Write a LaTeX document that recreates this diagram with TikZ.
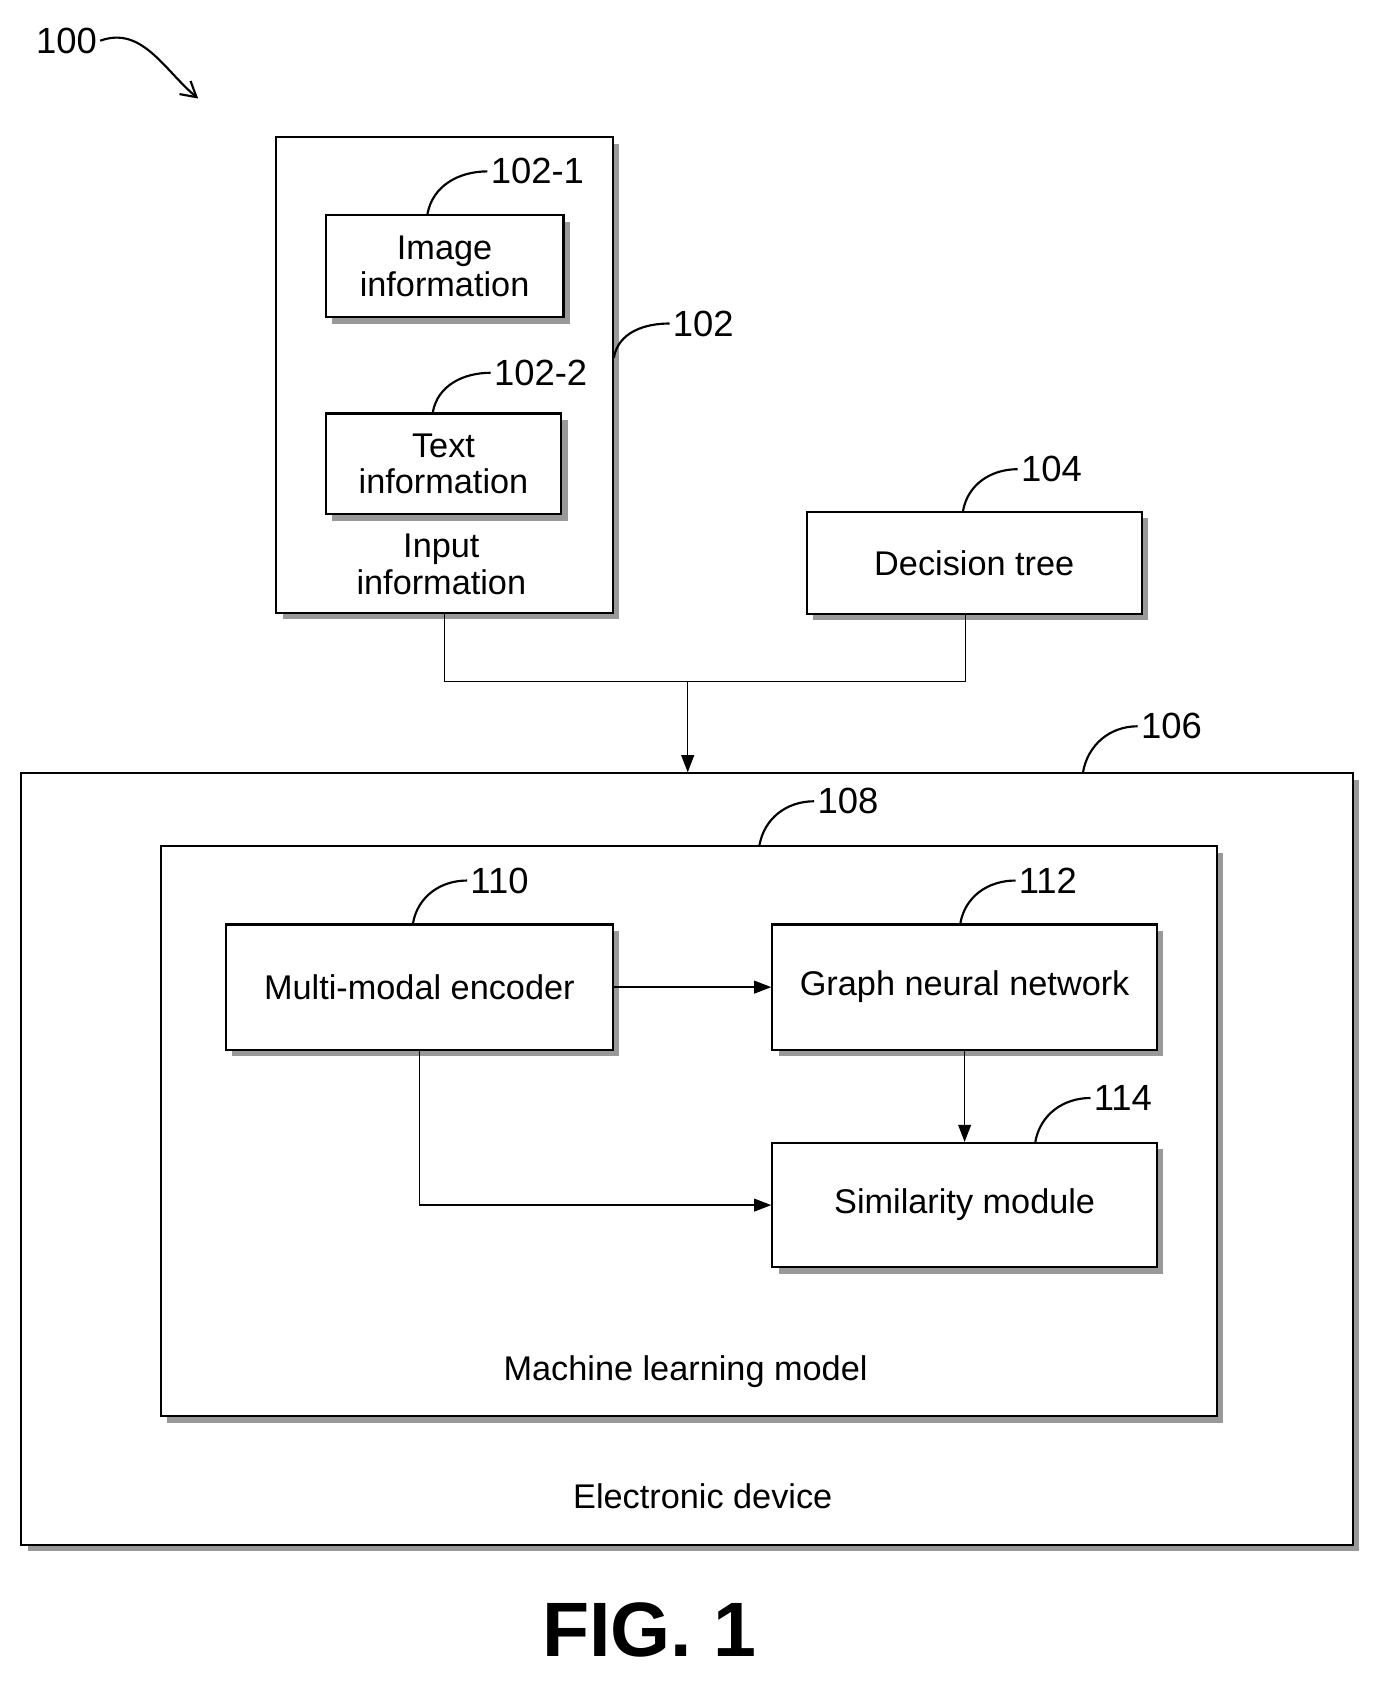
\documentclass[tikz,border=0pt]{standalone}
\usepackage{fontspec}
\setmainfont{Liberation Sans}
\usetikzlibrary{shadows,arrows.meta}

\begin{document}
\begin{tikzpicture}[x=1pt,y=-1pt,
  blk/.style={draw,line width=2pt,fill=white,inner sep=0pt,align=center,
    font=\fontsize{32}{34}\selectfont,
    drop shadow={shadow xshift=6pt,shadow yshift=-6pt,fill=gray!80,opacity=1}},
  num/.style={anchor=west,inner sep=3pt,font=\fontsize{34}{36}\selectfont},
  lead/.style={line width=2pt},
  conn/.style={line width=1.2pt},
  arr/.style={conn,-{Triangle[length=16pt,width=12pt]}}]
\useasboundingbox (0,0) rectangle (1296,1573);
% outer boxes
\node[blk,minimum width=1243,minimum height=720] (dev) at (641.5,1082) {};
\node[blk,minimum width=986,minimum height=532] (mlm) at (643,1056) {};
\node[blk,minimum width=314,minimum height=444] (inp) at (415,350) {};
% inner blocks
\node[blk,minimum width=222,minimum height=95] (img) at (415,248.5) {Image\\information};
\node[blk,minimum width=220,minimum height=94] (txt) at (414,433) {Text\\information};
\node[font=\fontsize{32}{34}\selectfont,align=center] (inptxt) at (412,527) {Input\\information};
\node[blk,minimum width=313,minimum height=95] (tree) at (909.5,525.5) {Decision tree};
\node[blk,minimum width=361,minimum height=117] (enc) at (391.5,921.5) {Multi-modal encoder};
\node[blk,minimum width=359,minimum height=117] (gnn) at (900.5,921.5) {Graph neural network};
\node[blk,minimum width=359,minimum height=116] (sim) at (900.5,1125) {Similarity module};
\node[font=\fontsize{32}{34}\selectfont] (mlmtxt) at (640,1280) {Machine learning model};
\node[font=\fontsize{32}{34}\selectfont] (devtxt) at (656,1397) {Electronic device};
\node[font=\fontsize{72}{74}\selectfont\bfseries] (fig) at (606,1522) {FIG. 1};
% reference numerals
\node[num,anchor=center] (n100) at (62,38) {100};
\node[num] (n1021) at (455,160) {102-1};
\node[num] (n1022) at (458,348) {102-2};
\node[num] (n102) at (625,302) {102};
\node[num] (n104) at (950,438) {104};
\node[num] (n106) at (1062,678) {106};
\node[num] (n108) at (760,748) {108};
\node[num] (n110) at (436,822) {110};
\node[num] (n112) at (948,822) {112};
\node[num] (n114) at (1018,1025) {114};
\draw[lead,-{Straight Barb[length=14pt,width=16pt]}] (n100.east) to[out=20,in=140] (185,92);
\draw[lead] (img.north west) ++(96,0) to[out=80,in=180] (n1021.west);
\draw[lead] (txt.north west) ++(101,0) to[out=80,in=180] (n1022.west);
\draw[lead] (inp.north east) ++(0,207) to[out=80,in=180] (n102.west);
\draw[lead] (tree.north west) ++(147,0) to[out=80,in=180] (n104.west);
\draw[lead] (dev.north west) ++(992,0) to[out=80,in=180] (n106.west);
\draw[lead] (mlm.north west) ++(560,0) to[out=80,in=180] (n108.west);
\draw[lead] (enc.north) ++(-6,0) to[out=80,in=180] (n110.west);
\draw[lead] (gnn.north) ++(-4,0) to[out=80,in=180] (n112.west);
\draw[lead] (sim.north) ++(66,0) to[out=80,in=180] (n114.west);
% connectors
\coordinate (join) at (642,636);
\coordinate (treefoot) at (901,636);
\draw[conn] (inp.south) |- (join) -- (treefoot) -- (treefoot |- tree.south);
\draw[arr] (join) -- (dev.north -| join);
\draw[arr] (enc.east) -- (gnn.west);
\draw[arr] (gnn.south) -- (sim.north);
\draw[arr] (enc.south) |- (sim.west);
\end{tikzpicture}
\end{document}
